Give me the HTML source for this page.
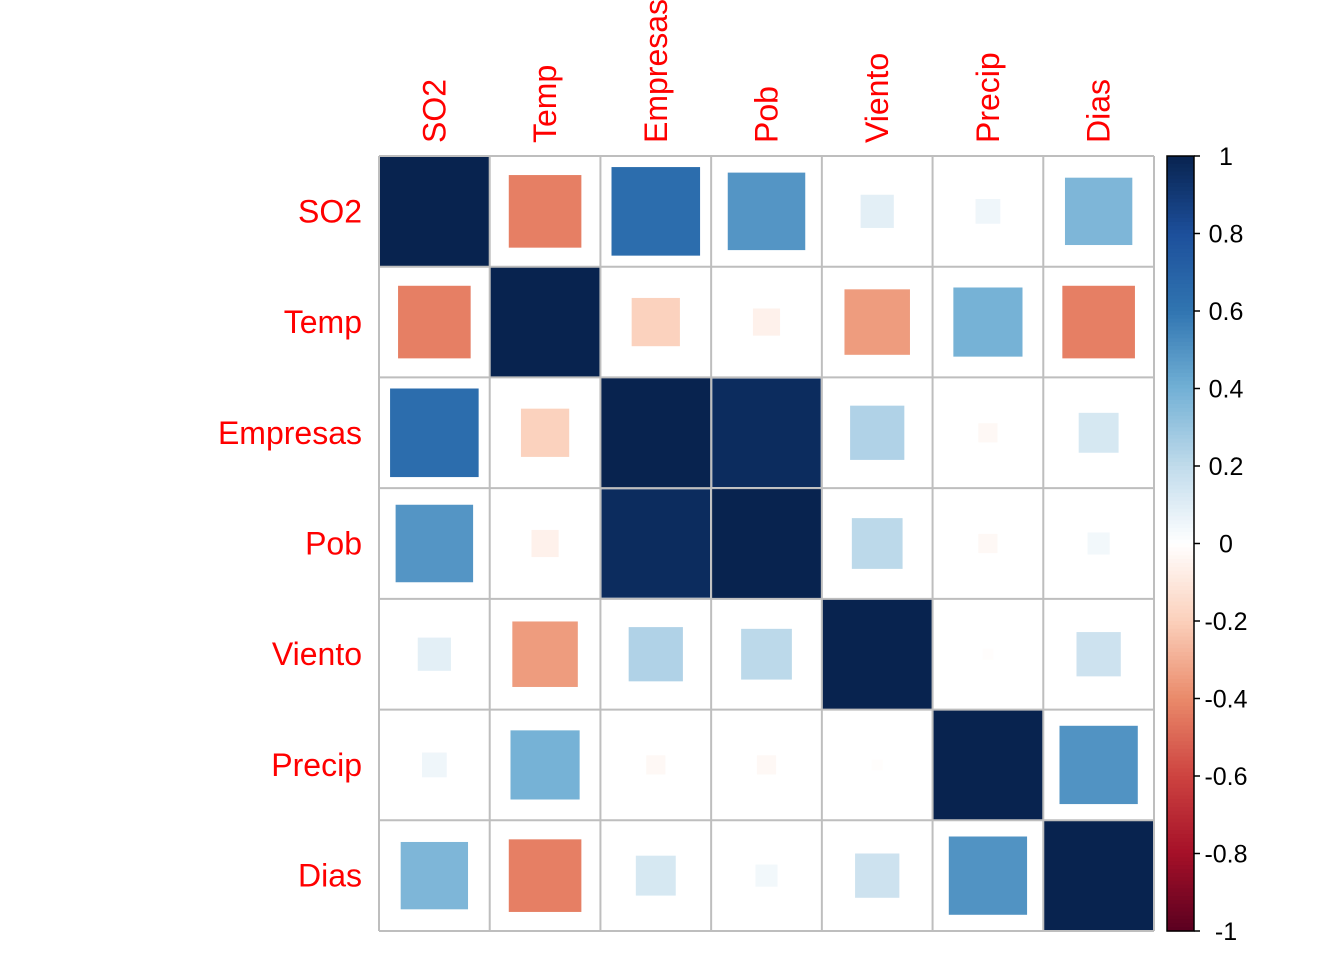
<!DOCTYPE html>
<html><head><meta charset="utf-8"><style>
body{margin:0;background:#fff;}
svg text{font-family:"Liberation Sans",Arial,sans-serif;}
</style></head><body>
<svg id="chart" width="1344" height="960" xmlns="http://www.w3.org/2000/svg"></svg>
<script>
const variables = ["SO2","Temp","Empresas","Pob","Viento","Precip","Dias"];
const corr = [
 [1.00,-0.43,0.64,0.49,0.09,0.05,0.37],
 [-0.43,1.00,-0.19,-0.06,-0.35,0.39,-0.43],
 [0.64,-0.19,1.00,0.96,0.24,-0.03,0.13],
 [0.49,-0.06,0.96,1.00,0.21,-0.03,0.04],
 [0.09,-0.35,0.24,0.21,1.00,-0.01,0.16],
 [0.05,0.39,-0.03,-0.03,-0.01,1.00,0.50],
 [0.37,-0.43,0.13,0.04,0.16,0.50,1.00]
];
const colorTicks = [1,0.8,0.6,0.4,0.2,0,-0.2,-0.4,-0.6,-0.8,-1];
const pal = ["#5A0020","#A51028","#CD4340","#EA8A6A","#FBD0BB","#FFFFFF","#C0DBEB","#72B0D5","#3075B1","#1D4F9B","#08234F"];

const svg = document.getElementById('chart');
const NS = "http://www.w3.org/2000/svg";
const x0=379, y0=156, x1=1154, y1=931;
const n = variables.length, cw=(x1-x0)/n, ch=(y1-y0)/n;
function hex(h){return [1,3,5].map(i=>parseInt(h.substr(i,2),16));}
function color(r){
  const t=(r+1)/2*(pal.length-1); const i=Math.min(Math.floor(t),pal.length-2); const f=t-i;
  const a=hex(pal[i]), b=hex(pal[i+1]);
  return `rgb(${a.map((v,k)=>Math.round(v+(b[k]-v)*f)).join(',')})`;
}
function mk(tag, attrs){const e=document.createElementNS(NS,tag);for(const k in attrs)e.setAttribute(k,attrs[k]);svg.appendChild(e);return e;}
const cbY=v=>y0+(1-v)/2*(y1-y0);

for(let i=0;i<n;i++)for(let j=0;j<n;j++){
  const r=corr[i][j], s=Math.sqrt(Math.abs(r));
  const cx=x0+(j+0.5)*cw, cy=y0+(i+0.5)*ch;
  const w=s*cw, h=s*ch;
  const el=mk('rect',{x:cx-w/2,y:cy-h/2,width:w,height:h,fill:color(r)});
  
  
}
for(let k=0;k<=n;k++){
  const g1=mk('line',{x1:x0+k*cw,x2:x0+k*cw,y1:y0,y2:y1,stroke:'#BEBEBE','stroke-width':2});
  
  
  const g2=mk('line',{x1:x0,x2:x1,y1:y0+k*ch,y2:y0+k*ch,stroke:'#BEBEBE','stroke-width':2});
  
  
}
variables.forEach((v,i)=>{
  const t=mk('text',{x:362,y:y0+(i+0.5)*ch+11,'text-anchor':'end','font-size':32,fill:'#FF0000'});
  t.textContent=v;
  
  
  const cx=x0+(i+0.5)*cw+11;
  const c=mk('text',{x:0,y:0,transform:`translate(${cx},143) rotate(-90)`,'text-anchor':'start','font-size':32,fill:'#FF0000'});
  c.textContent=v;
  
  
});
// colorbar
const steps=200;
for(let k=0;k<steps;k++){
  const v=1-2*(k+0.5)/steps;
  const r=mk('rect',{x:1167,y:cbY(1)+k*(y1-y0)/steps,width:27,height:(y1-y0)/steps+0.6,fill:color(v)});
  
  
}
const bd=mk('rect',{x:1167,y:y0,width:27,height:y1-y0,fill:'none',stroke:'#000','stroke-width':1.5});


colorTicks.forEach(v=>{
  const y=cbY(v);
  const tk=mk('line',{x1:1194,x2:1200,y1:y,y2:y,stroke:'#000','stroke-width':1.5});
  
  
  const t=mk('text',{x:1226,y:y+9,'text-anchor':'middle','font-size':25,fill:'#000'});
  t.textContent=String(v);
  
  
});
</script>
</body></html>
